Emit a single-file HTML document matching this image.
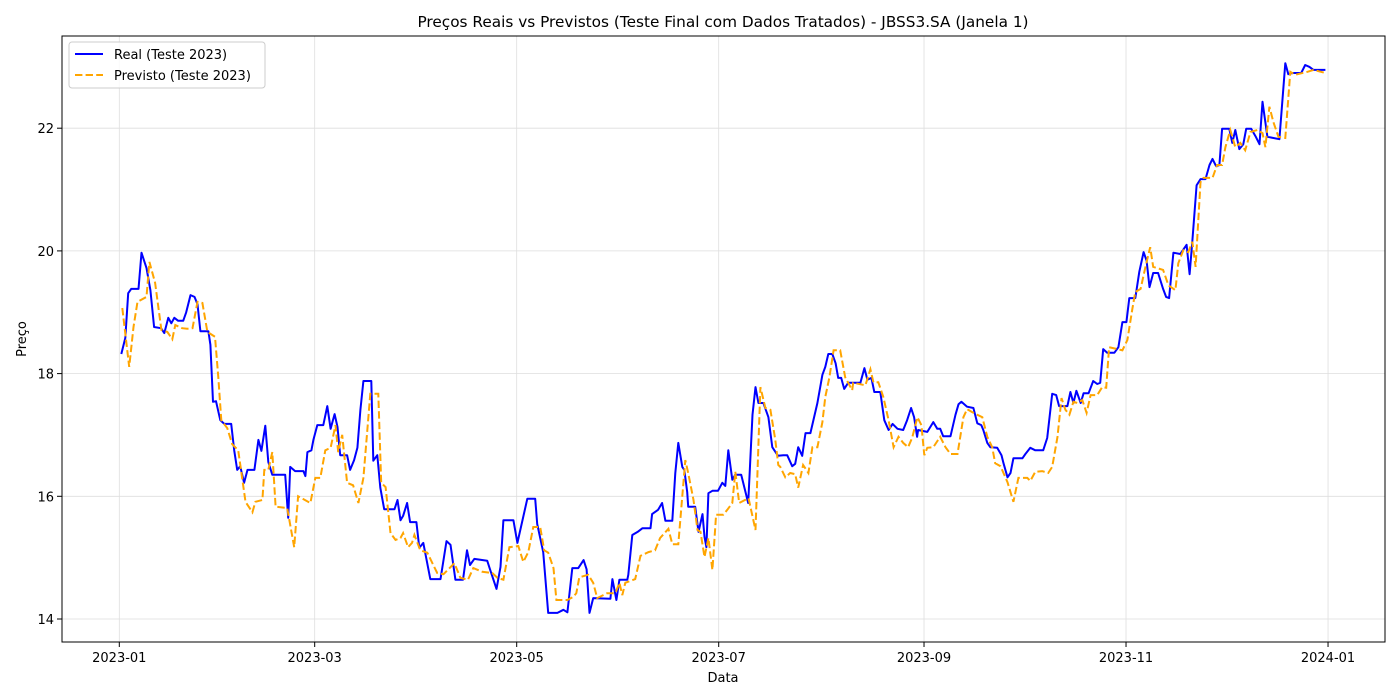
<!DOCTYPE html>
<html><head><meta charset="utf-8">
<style>
html,body{margin:0;padding:0;background:#fff;}
svg{display:block;font-family:"DejaVu Sans","Liberation Sans",sans-serif;}
</style></head>
<body>
<svg id="chart" width="1400" height="700" viewBox="0 0 1400 700" xmlns="http://www.w3.org/2000/svg">
  <rect x="0" y="0" width="1400" height="700" fill="#fff"/>
  <text x="723" y="27" text-anchor="middle" font-size="15.3" fill="#000">Preços Reais vs Previstos (Teste Final com Dados Tratados) - JBSS3.SA (Janela 1)</text>
  <g id="grid"></g>
  <g id="series"></g>
  <rect x="62" y="36" width="1323" height="606" fill="none" stroke="#000" stroke-width="1"/>
  <g id="axes"></g>
  <text x="723" y="682" text-anchor="middle" font-size="13">Data</text>
  <text transform="translate(26,339) rotate(-90)" text-anchor="middle" font-size="13">Preço</text>
  <g>
    <rect x="69" y="42" width="196" height="46" rx="3" fill="#fff" fill-opacity="0.8" stroke="#ccc"/>
    <line x1="75" y1="54" x2="103" y2="54" stroke="#0000ff" stroke-width="2"/>
    <text x="114" y="59" font-size="13">Real (Teste 2023)</text>
    <line x1="75" y1="75" x2="103" y2="75" stroke="#ffa500" stroke-width="2" stroke-dasharray="7.4,3.2"/>
    <text x="114" y="80" font-size="13">Previsto (Teste 2023)</text>
  </g>
</svg>
<script>
// Days since 2023-01-01, price values
const xTickDays = [0, 59, 120, 181, 243, 304, 365];
const xTickLabels = ["2023-01","2023-03","2023-05","2023-07","2023-09","2023-11","2024-01"];
const yTickValues = [14, 16, 18, 20, 22];
const realSeries = [[0.6,18.32],[1.8,18.58],[2.7,19.31],[3.6,19.38],[5.8,19.38],[6.7,19.97],[8.2,19.72],[9.4,19.36],[10.5,18.76],[12.6,18.74],[13.6,18.66],[14.8,18.91],[15.7,18.82],[16.6,18.91],[17.8,18.86],[19.3,18.86],[20.2,19.00],[21.5,19.28],[22.7,19.25],[23.6,19.13],[24.5,18.69],[26.9,18.69],[27.5,18.47],[28.3,17.54],[29.2,17.55],[30.5,17.24],[31.7,17.18],[33.8,17.18],[34.7,16.75],[35.6,16.43],[36.5,16.49],[37.7,16.22],[38.7,16.43],[40.8,16.43],[42.0,16.92],[42.9,16.74],[44.1,17.15],[45.0,16.56],[46.2,16.35],[50.1,16.35],[51.0,15.65],[51.6,16.48],[53.1,16.41],[55.6,16.41],[56.2,16.33],[56.8,16.72],[58.0,16.75],[58.6,16.92],[59.8,17.16],[61.6,17.16],[62.8,17.47],[63.8,17.10],[65.0,17.34],[65.9,17.13],[66.7,16.67],[68.8,16.67],[69.7,16.43],[70.9,16.59],[71.9,16.79],[72.8,17.41],[73.7,17.88],[76.1,17.88],[76.7,16.58],[77.9,16.67],[78.8,16.14],[80.0,15.79],[83.1,15.79],[84.0,15.94],[84.9,15.61],[85.7,15.68],[86.9,15.89],[87.8,15.58],[89.7,15.58],[90.6,15.16],[91.8,15.24],[93.9,14.65],[97.0,14.65],[98.8,15.27],[100.0,15.21],[101.5,14.64],[103.8,14.64],[105.0,15.12],[105.9,14.88],[107.2,14.98],[111.1,14.95],[112.0,14.80],[113.9,14.49],[115.1,14.85],[116.0,15.61],[119.0,15.61],[120.2,15.24],[123.2,15.96],[125.6,15.96],[126.2,15.55],[128.0,15.09],[129.5,14.10],[132.3,14.10],[134.1,14.15],[135.3,14.11],[136.8,14.83],[138.6,14.83],[140.2,14.96],[141.1,14.81],[142.0,14.10],[143.1,14.34],[148.3,14.33],[148.9,14.65],[150.1,14.31],[151.0,14.64],[153.4,14.64],[153.7,14.72],[154.9,15.37],[156.5,15.42],[158.0,15.48],[160.4,15.48],[160.9,15.71],[162.7,15.78],[163.9,15.89],[164.9,15.60],[167.0,15.60],[167.9,16.38],[168.8,16.87],[170.0,16.48],[170.6,16.43],[171.5,16.07],[171.8,15.83],[173.9,15.83],[174.9,15.42],[176.1,15.71],[176.7,15.34],[177.3,15.17],[177.9,16.05],[179.1,16.09],[180.8,16.09],[182.1,16.22],[183.0,16.17],[183.9,16.75],[185.1,16.27],[186.0,16.35],[187.8,16.35],[188.4,16.22],[189.9,15.89],[191.2,17.33],[192.1,17.78],[193.0,17.52],[194.5,17.52],[196.0,17.29],[197.2,16.80],[198.9,16.66],[200.5,16.67],[201.7,16.67],[203.2,16.49],[204.1,16.53],[205.0,16.80],[206.2,16.66],[207.2,17.03],[208.7,17.03],[210.8,17.52],[212.3,17.98],[213.2,18.11],[214.1,18.32],[215.3,18.32],[216.3,18.17],[217.1,17.93],[218.0,17.93],[218.9,17.75],[220.1,17.85],[223.8,17.85],[225.0,18.09],[225.9,17.90],[227.1,17.93],[228.0,17.70],[229.8,17.70],[231.0,17.24],[232.3,17.08],[233.5,17.18],[235.0,17.10],[236.7,17.08],[237.9,17.24],[239.1,17.44],[240.0,17.29],[240.9,16.97],[241.2,17.08],[244.0,17.05],[245.8,17.21],[247.0,17.10],[247.9,17.10],[248.8,16.98],[251.0,16.98],[252.5,17.33],[253.4,17.50],[254.3,17.54],[256.0,17.46],[257.9,17.44],[259.1,17.19],[260.3,17.16],[260.9,17.08],[262.1,16.87],[263.0,16.80],[265.1,16.79],[266.4,16.67],[267.0,16.54],[268.2,16.31],[269.1,16.38],[270.0,16.62],[272.7,16.62],[273.6,16.69],[275.1,16.79],[276.6,16.75],[279.0,16.75],[280.2,16.95],[281.7,17.67],[282.9,17.65],[283.8,17.47],[286.3,17.47],[287.2,17.70],[288.1,17.52],[289.0,17.72],[290.3,17.52],[291.2,17.68],[292.7,17.68],[294.1,17.88],[295.3,17.83],[296.2,17.85],[297.1,18.40],[298.3,18.34],[300.5,18.34],[301.7,18.43],[302.9,18.84],[304.1,18.84],[305.0,19.23],[306.8,19.23],[308.0,19.66],[309.3,19.98],[310.2,19.84],[311.1,19.41],[312.2,19.64],[313.7,19.64],[315.2,19.38],[316.1,19.25],[317.0,19.23],[318.3,19.97],[320.4,19.95],[322.3,20.10],[323.2,19.62],[324.0,20.15],[325.3,21.07],[326.5,21.17],[328.0,21.17],[329.2,21.40],[330.1,21.50],[331.2,21.38],[332.2,21.40],[333.0,21.99],[335.2,21.99],[336.1,21.76],[337.0,21.97],[338.2,21.66],[339.4,21.74],[340.3,21.99],[341.8,21.99],[343.1,21.87],[344.3,21.74],[345.2,22.43],[346.7,21.86],[350.3,21.82],[352.1,23.06],[353.0,22.88],[354.2,22.90],[356.9,22.90],[358.1,23.03],[359.4,23.00],[360.6,22.95],[364.2,22.95]];
const predSeries = [[0.9,19.07],[3.0,18.11],[4.3,18.76],[5.5,19.17],[8.2,19.25],[9.1,19.82],[10.8,19.48],[12.7,18.71],[14.5,18.68],[16.0,18.56],[16.9,18.79],[19.0,18.74],[20.5,18.73],[22.1,18.74],[23.6,19.17],[25.1,19.15],[26.6,18.68],[28.9,18.60],[29.9,17.94],[30.8,17.24],[32.6,17.11],[34.1,16.85],[35.9,16.75],[38.1,15.91],[40.2,15.74],[41.1,15.91],[43.2,15.94],[43.8,16.43],[45.0,16.43],[46.2,16.72],[47.2,15.83],[50.7,15.81],[52.8,15.17],[54.0,16.00],[57.7,15.89],[59.2,16.30],[60.7,16.30],[62.2,16.75],[63.8,16.79],[65.3,17.16],[66.1,16.72],[67.3,17.00],[68.8,16.22],[70.6,16.18],[72.2,15.89],[73.7,16.30],[75.8,17.67],[78.2,17.67],[79.1,16.22],[80.4,16.15],[81.9,15.40],[83.4,15.29],[84.9,15.32],[85.7,15.40],[87.2,15.17],[88.4,15.24],[89.1,15.37],[90.9,15.12],[93.0,15.08],[96.0,14.75],[97.9,14.73],[101.2,14.91],[103.0,14.67],[105.3,14.64],[106.9,14.83],[109.6,14.77],[112.6,14.75],[114.2,14.67],[116.0,14.64],[117.8,15.17],[120.5,15.19],[122.0,14.93],[123.5,15.09],[125.0,15.50],[127.1,15.50],[128.3,15.12],[129.5,15.08],[131.1,14.83],[132.0,14.31],[135.3,14.31],[137.1,14.36],[138.0,14.42],[138.9,14.68],[141.6,14.72],[143.1,14.59],[144.3,14.34],[147.3,14.42],[149.8,14.42],[151.0,14.59],[151.9,14.39],[152.8,14.59],[155.8,14.65],[157.4,15.03],[159.8,15.09],[161.8,15.12],[163.3,15.32],[165.8,15.47],[167.0,15.22],[168.8,15.22],[170.9,16.59],[171.8,16.38],[173.4,15.94],[174.6,15.45],[175.5,15.42],[176.7,15.01],[177.9,15.32],[179.1,14.80],[180.2,15.70],[182.4,15.70],[183.6,15.78],[185.1,15.89],[186.0,16.40],[187.2,15.89],[190.0,15.97],[192.1,15.45],[193.6,17.78],[195.1,17.44],[196.6,17.41],[198.1,16.92],[199.0,16.51],[199.6,16.48],[201.1,16.31],[202.6,16.38],[204.1,16.36],[205.0,16.14],[206.5,16.51],[208.1,16.38],[209.3,16.80],[210.8,16.80],[212.3,17.21],[213.2,17.62],[214.4,17.93],[215.7,18.38],[217.7,18.38],[219.2,17.94],[221.3,17.73],[221.6,17.85],[225.3,17.81],[226.8,18.07],[227.7,17.86],[229.2,17.86],[230.7,17.62],[232.3,17.24],[233.8,16.80],[235.3,16.97],[236.7,16.87],[238.2,16.80],[239.4,16.95],[241.0,17.29],[242.2,17.16],[243.1,16.67],[244.0,16.79],[245.8,16.80],[247.9,16.97],[249.5,16.80],[251.0,16.69],[253.1,16.69],[254.9,17.29],[256.0,17.42],[257.6,17.37],[260.6,17.29],[262.1,16.97],[263.6,16.80],[264.5,16.54],[266.1,16.49],[268.2,16.23],[270.0,15.91],[271.5,16.30],[274.2,16.30],[275.1,16.25],[276.6,16.40],[278.7,16.41],[280.5,16.38],[281.7,16.48],[283.3,16.97],[284.5,17.60],[285.7,17.41],[286.9,17.33],[288.1,17.54],[289.3,17.52],[290.8,17.57],[292.1,17.36],[293.3,17.65],[295.3,17.65],[296.8,17.78],[298.0,17.77],[298.9,18.43],[302.9,18.38],[304.4,18.55],[305.9,19.05],[306.8,19.33],[308.4,19.38],[309.9,19.75],[311.3,20.06],[312.2,19.74],[315.2,19.69],[316.8,19.44],[318.9,19.36],[319.8,19.80],[321.3,20.01],[322.8,19.98],[324.0,20.15],[325.0,19.74],[326.5,21.12],[327.4,21.19],[330.1,21.19],[331.5,21.40],[333.0,21.40],[334.0,21.69],[335.5,21.97],[337.0,21.69],[338.5,21.76],[340.0,21.64],[341.6,21.94],[343.7,21.97],[345.2,21.92],[346.1,21.69],[347.3,22.35],[348.5,22.10],[350.0,21.86],[352.1,21.84],[353.6,22.92],[355.1,22.87],[358.8,22.92],[360.6,22.95],[364.2,22.90]];

const NS = "http://www.w3.org/2000/svg";
const plot = {left:62, right:1385, top:36, bottom:642};
function xScale(d){ return 119.3 + d * 3.3116; }
function yScale(v){ return 619 - (v - 14) * 61.35; }
function mk(tag, attrs){ const e = document.createElementNS(NS, tag); for (const k in attrs) e.setAttribute(k, attrs[k]); return e; }

const grid = document.getElementById('grid');
const axes = document.getElementById('axes');
xTickDays.forEach((d, i) => {
  const x = xScale(d);
  const gl = mk('line', {x1:x, x2:x, y1:plot.top, y2:plot.bottom, stroke:'#dedede', 'stroke-width':0.8});
  
  
  grid.appendChild(gl);
  const tk = mk('line', {x1:x, x2:x, y1:plot.bottom, y2:plot.bottom+5, stroke:'#000', 'stroke-width':1});
  
  
  axes.appendChild(tk);
  const t = mk('text', {x:x, y:plot.bottom+20, 'text-anchor':'middle', 'font-size':13});
  t.textContent = xTickLabels[i];
  
  
  axes.appendChild(t);
});
yTickValues.forEach(v => {
  const y = yScale(v);
  const gl = mk('line', {x1:plot.left, x2:plot.right, y1:y, y2:y, stroke:'#dedede', 'stroke-width':0.8});
  
  
  grid.appendChild(gl);
  const tk = mk('line', {x1:plot.left-5, x2:plot.left, y1:y, y2:y, stroke:'#000', 'stroke-width':1});
  
  
  axes.appendChild(tk);
  const t = mk('text', {x:plot.left-8, y:y+5, 'text-anchor':'end', 'font-size':13});
  t.textContent = String(v);
  
  
  axes.appendChild(t);
});

const series = document.getElementById('series');
function pathFor(s){ return s.map((p, i) => (i ? 'L' : 'M') + xScale(p[0]).toFixed(1) + ',' + yScale(p[1]).toFixed(1)).join(''); }
const realPath = mk('path', {d:pathFor(realSeries), fill:'none', stroke:'#0000ff', 'stroke-width':2, 'stroke-linejoin':'round'});


series.appendChild(realPath);
const predPath = mk('path', {d:pathFor(predSeries), fill:'none', stroke:'#ffa500', 'stroke-width':2, 'stroke-dasharray':'7.4,3.2'});


series.appendChild(predPath);
</script>
</body></html>
